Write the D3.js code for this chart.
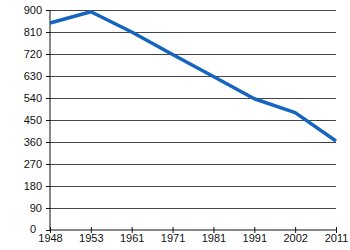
<!DOCTYPE html>
<html><head><meta charset="utf-8">
<script src="https://cdn.jsdelivr.net/npm/d3@7"></script>
<style>body{margin:0;background:#fff}svg{display:block}text{font-family:"Liberation Sans",Arial,sans-serif}</style>
</head><body>
<svg id="c" width="350" height="250"></svg>
<script>
const years = ["1948","1953","1961","1971","1981","1991","2002","2011"];
const values = [847, 893, 810, 718, 628, 537, 480, 364];
const yTicks = [0,90,180,270,360,450,540,630,720,810,900];

const svg = d3.select("#c");
const m = {l:50, r:14, t:10, b:20};
const W = 350, H = 250;
const x = d3.scalePoint().domain(years).range([m.l, W - m.r]).padding(0);
const y = d3.scaleLinear().domain([0, 900]).range([H - m.b, m.t]);

// gridlines
svg.append("g").selectAll("line").data(yTicks.filter(d=>d>0)).join("line")
  .attr("x1", m.l - 4).attr("x2", W - m.r)
  .attr("y1", d=>y(d)).attr("y2", d=>y(d))
  .attr("stroke", "#444").attr("stroke-width", 1).attr("shape-rendering","crispEdges");

// y axis
const ya = svg.append("g").attr("transform", `translate(${m.l},0)`)
  .call(d3.axisLeft(y).tickValues(yTicks).tickSize(4).tickPadding(4));
ya.selectAll("text").attr("font-size", 11).attr("fill", "#111").attr("font-family","Liberation Sans, Arial, sans-serif");
ya.select(".domain").attr("stroke", "#111").attr("d", `M0,${y(0)}V${y(900)}`);
ya.selectAll(".tick line").attr("stroke","#111");
ya.selectAll(".tick").filter(d=>d===0).select("text").attr("x", -14).attr("dy", "0.2em");

// x axis
const xa = svg.append("g").attr("transform", `translate(0,${y(0)})`)
  .call(d3.axisBottom(x).tickSize(0).tickPadding(4));
xa.select(".domain").attr("stroke", "#111").attr("d", `M${m.l},0H${W - m.r}`);
xa.selectAll(".tick line").attr("y1", -3).attr("y2", 3).attr("stroke", "#111");
xa.selectAll("text").attr("font-size", 11).attr("fill", "#111").attr("font-family","Liberation Sans, Arial, sans-serif");

// line
svg.append("path").datum(values)
  .attr("fill", "none").attr("stroke", "#1565c0").attr("stroke-width", 3.5)
  .attr("stroke-linejoin", "round")
  .attr("d", d3.line().x((d,i)=>x(years[i])).y(d=>y(d)));
</script>
</body></html>
